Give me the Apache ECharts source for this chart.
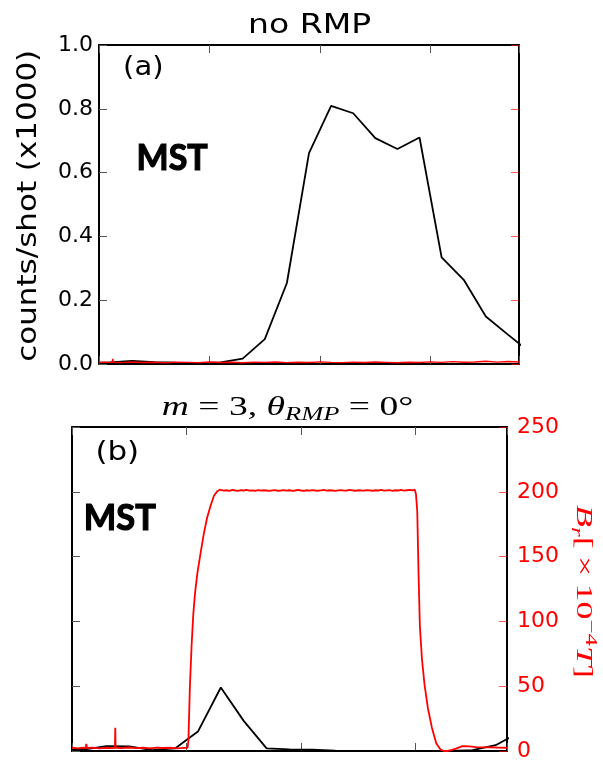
<!DOCTYPE html>
<html>
<head>
<meta charset="utf-8">
<script src="https://cdn.jsdelivr.net/npm/echarts@6/dist/echarts.min.js"></script>
<style>
html,body{margin:0;padding:0;background:#fff;}
#c{width:603px;height:762px;}
</style>
</head>
<body>
<div id="c"></div>
<script>
// ---------------- data ----------------
const xSamples = [-1, 1, 3, 5, 7, 9, 11, 13, 15, 17, 19, 21, 23, 25, 27, 29, 31, 33, 35, 37, 39];
const countsA = [0.004, 0.005, 0.010, 0.006, 0.004, 0.003, 0.005, 0.017, 0.078, 0.254, 0.661, 0.809, 0.786, 0.708, 0.674, 0.710, 0.334, 0.264, 0.149, 0.092, 0.036];
const countsB = [0.004, 0.004, 0.015, 0.014, 0.003, 0.008, 0.060, 0.196, 0.093, 0.008, 0.005, 0.004, 0.001, 0.000, 0.000, 0.000, 0.000, 0.000, 0.003, 0.018, 0.056];

// Br signal, no RMP (panel a): [time, Br]
const brA = [[0,1.2],[0.6,1.5],[1.2,1.3],[1.24,4.0],[1.3,1.4],[2,1.1],[3,1.6],[4,1.2],[5,1.4],[6,1.0],[7,1.5],[8,1.3],[9,1.1],[10,1.6],[11,1.2],[12,1.4],[13,1.0],[14,1.5],[15,1.3],[16,1.6],[17,1.1],[18,1.4],[19,1.2],[20,1.7],[21,1.3],[22,1.1],[23,1.5],[24,1.2],[25,1.6],[26,1.3],[27,1.0],[28,1.4],[29,1.2],[30,1.7],[31,1.3],[32,1.9],[33,1.4],[34,1.6],[35,2.2],[36,1.5],[37,2.0],[38,1.6]];

// Br signal, m=3 RMP (panel b): [time, Br]
const brB = [[0,2.5],[0.5,2.0],[1.0,2.5],[1.2,2.2],[1.25,5.5],[1.3,2.3],[1.8,2.6],[2.4,2.0],[3.0,2.5],[3.5,2.2],[3.75,2.4],[3.78,18],[3.81,2.5],[4.3,2.3],[5.0,2.7],[5.6,2.2],[6.2,2.5],[6.8,2.1],[7.4,2.6],[8.0,2.3],[8.6,2.5],[9.2,2.1],[9.8,2.4],[10.1,2.5],
[10.17,8],[10.3,50],[10.45,82],[10.6,106],[10.75,122],[10.95,137],[11.2,151],[11.5,167],[11.8,180],[12.1,189],[12.4,197],[12.7,200.5],[12.9,201.6],
[13.0,201.3],[13.25,200.9],[13.5,201.2],[13.75,200.8],[14.0,201.4],[14.25,201.0],[14.5,200.7],[14.75,201.2],[15.0,201.0],[15.25,201.4],[15.5,200.9],[15.75,201.1],[16.0,200.8],[16.25,201.3],[16.5,200.9],[16.75,201.2],[17.0,201.0],[17.25,200.7],[17.5,201.1],[17.75,201.3],[18.0,200.8],[18.25,201.0],[18.5,201.3],[18.75,200.9],[19.0,201.2],[19.25,200.8],[19.5,201.0],[19.75,201.4],[20.0,201.0],[20.25,200.8],[20.5,201.2],[20.75,200.9],[21.0,201.3],[21.25,201.0],[21.5,200.8],[21.75,201.1],[22.0,201.4],[22.25,200.9],[22.5,201.2],[22.75,201.0],[23.0,200.7],[23.25,201.1],[23.5,201.3],[23.75,200.9],[24.0,201.0],[24.25,201.4],[24.5,201.1],[24.75,200.8],[25.0,201.2],[25.25,201.0],[25.5,200.9],[25.75,201.3],[26.0,201.1],[26.25,200.8],[26.5,201.2],[26.75,201.0],[27.0,201.4],[27.25,200.9],[27.5,201.1],[27.75,201.3],[28.0,200.8],[28.25,201.2],[28.5,201.0],[28.75,201.4],[29.0,200.9],[29.25,201.2],[29.5,201.5],[29.75,201.1],[29.95,201.6],
[30.0,201],[30.05,198],[30.16,185],[30.28,134],[30.39,96],[30.57,71],[30.8,51],[31.09,33],[31.44,18],[31.82,6],[32.2,1],[32.5,0],[32.8,0],[33.2,0.8],[33.6,2],[34.1,3.8],[34.7,3.6],[35.3,3.0],[35.9,2.8],[36.5,2.9],[37.2,2.6],[38,2.5]];

const countTicks = [0, 1, 0.2];   // min, max, interval
const brTicks = [0, 250, 50];
const timeRange = [0, 38, 10];

// ---------------- helpers ----------------
const mctx = document.createElement('canvas').getContext('2d');
function tw(t, font){ mctx.font = font; return mctx.measureText(t).width; }
function plainText(t, font, cx, cy, target, rot, fill, strokeW){
  const sx = target / tw(t, font);
  const st = {text:t, font:font, fill:fill||'#000', align:'center', verticalAlign:'middle'};
  if (strokeW) { st.stroke = fill||'#000'; st.lineWidth = strokeW; }
  return {type:'text', x:cx, y:cy, rotation:rot||0, scaleX:sx, z:100, style:st};
}
function mathText(segs, base, cx, cy, target, rot, fill){
  let x = 0; const kids = [];
  segs.forEach(s => {
    const size = s.size || base;
    const font = (s.it ? 'italic ' : '') + size + 'px "Liberation Serif"';
    const ww = tw(s.t, font);
    kids.push({type:'text', x:x, y:(s.dy||0), style:{text:s.t, font:font, fill:fill, align:'left', verticalAlign:'middle'}});
    x += ww;
  });
  kids.forEach(k => { k.x -= x/2; });
  return {type:'group', x:cx, y:cy, rotation:rot||0, scaleX:target/x, z:100, children:kids};
}

const tickGray = {inside:true, length:8, lineStyle:{color:'#555', width:1}};
const tickRed = {inside:true, length:8, lineStyle:{color:'rgba(255,0,0,0.65)', width:1}};
const spine = {show:true, onZero:false, lineStyle:{color:'#000', width:2}};

function xAx(grid, pos){
  return {type:'value', gridIndex:grid, position:pos, min:timeRange[0], max:timeRange[1], interval:timeRange[2],
    axisLine:spine, axisTick:tickGray, axisLabel:{show:false}, splitLine:{show:false}};
}

const chart = echarts.init(document.getElementById('c'), null, {renderer:'canvas'});
chart.setOption({
  animation:false,
  backgroundColor:'#fff',
  grid:[
    {left:99, top:45, width:420, height:319},
    {left:72, top:427, width:435, height:330}
  ],
  xAxis:[xAx(0,'bottom'), xAx(0,'top'), xAx(1,'bottom'), xAx(1,'top')],
  yAxis:[
    {type:'value', gridIndex:0, position:'left', min:countTicks[0], max:countTicks[1], interval:countTicks[2],
      axisLine:spine, axisTick:tickGray, splitLine:{show:false},
      axisLabel:{show:true, margin:6, color:'#000', fontSize:22, fontFamily:'DejaVu Sans', formatter:v=>v.toFixed(1)}},
    {type:'value', gridIndex:0, position:'right', min:brTicks[0], max:brTicks[1], interval:brTicks[2],
      axisLine:spine, axisTick:tickRed, splitLine:{show:false}, axisLabel:{show:false}},
    {type:'value', gridIndex:1, position:'left', min:countTicks[0], max:countTicks[1], interval:countTicks[2],
      axisLine:spine, axisTick:tickGray, splitLine:{show:false}, axisLabel:{show:false}},
    {type:'value', gridIndex:1, position:'right', min:brTicks[0], max:brTicks[1], interval:brTicks[2],
      axisLine:spine, axisTick:tickRed, splitLine:{show:false},
      axisLabel:{show:true, margin:10, color:'#f00', fontSize:22, fontFamily:'DejaVu Sans'}}
  ],
  series:[
    {type:'line', xAxisIndex:0, yAxisIndex:0, data:xSamples.map((x,i)=>[x,countsA[i]]), showSymbol:false, symbol:'none',
      lineStyle:{color:'#000', width:1.8}, z:3},
    {type:'line', xAxisIndex:0, yAxisIndex:1, data:brA, symbol:'none', lineStyle:{color:'#f00', width:1.4}, z:4},
    {type:'line', xAxisIndex:2, yAxisIndex:2, data:xSamples.map((x,i)=>[x,countsB[i]]), symbol:'none',
      lineStyle:{color:'#000', width:1.8}, z:3},
    {type:'line', xAxisIndex:2, yAxisIndex:3, data:brB, symbol:'none', lineStyle:{color:'#f00', width:1.8}, z:4}
  ],
  graphic:[
    plainText('no RMP', '27px "DejaVu Sans"', 309.6, 26, 123, 0),
    plainText('(a)', '27px "DejaVu Sans"', 143.3, 67.5, 40.5, 0),
    plainText('(b)', '27px "DejaVu Sans"', 117.3, 453.4, 43.8, 0),
    plainText('MST', 'bold 37px Lato', 172.1, 158.3, 71.2, 0, '#000', 1.2),
    plainText('MST', 'bold 37px Lato', 119.8, 518.3, 72, 0, '#000', 1.2),
    plainText('counts/shot (x1000)', '26px "DejaVu Sans"', 29.4, 205.8, 312, Math.PI/2),
    mathText([
      {t:'m', it:true}, {t:' = 3, '}, {t:'θ', it:true}, {t:'RMP', it:true, size:19, dy:7}, {t:' = 0°'}
    ], 27, 287.5, 407.8, 251.6, 0, '#000'),
    mathText([
      {t:'B', it:true}, {t:'r', it:true, size:16, dy:6}, {t:'[\u2009×\u200910'}, {t:'−4', size:16, dy:-8}, {t:'T', it:true}, {t:']'}
    ], 23, 582.6, 591.5, 173, -Math.PI/2, '#f00')
  ]
});
</script>
</body>
</html>
